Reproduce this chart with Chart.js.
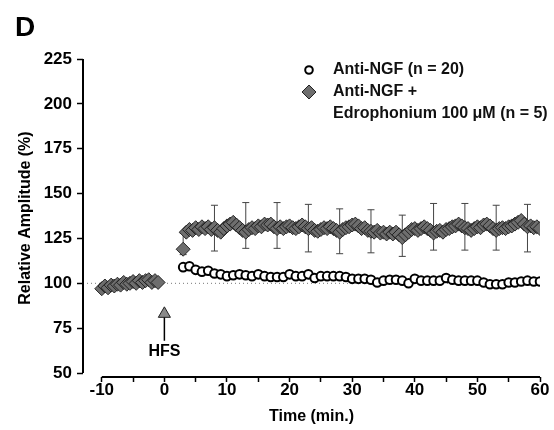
<!DOCTYPE html>
<html>
<head>
<meta charset="utf-8">
<script src="https://cdn.jsdelivr.net/npm/chart.js@4.4.1/dist/chart.umd.min.js"></script>
<style>
  html, body { margin: 0; padding: 0; background: #fff; }
  #wrap { width: 554px; height: 430px; position: relative; }
</style>
</head>
<body>
<div id="wrap"><canvas id="myChart"></canvas></div>
<script>
'use strict';
const FONT = '"Liberation Sans", Arial, Helvetica, sans-serif';

// axis ticks
const xTickValues = [-10, -5, 0, 5, 10, 15, 20, 25, 30, 35, 40, 45, 50, 55, 60];
const yTickValues = [50, 62.5, 75, 87.5, 100, 112.5, 125, 137.5, 150, 162.5, 175, 187.5, 200, 212.5, 225];

// Anti-NGF (n = 20), one point per minute from t = 3
const ngfStart = 3;
const ngfValues = [
  109, 109.5, 107.5, 106.5, 107, 105.5, 105, 104, 104.5, 105,
  104.5, 104, 105, 104, 103.5, 103.5, 103.5, 105, 104, 104,
  105, 103, 104, 104, 104, 104, 103.5, 102.5, 102.5, 102.5,
  102, 100.5, 101.5, 102, 102, 101.5, 100, 102.5, 101.5, 101.5,
  101.5, 101.5, 103, 102, 101.5, 101.5, 101.5, 101.5, 100.5, 99.5,
  99.5, 99.5, 100.5, 100.5, 101, 101.5, 101, 101
];

// Anti-NGF + Edrophonium (n = 5), every half minute
const edroBaseStart = -10;
const edroBaseValues = [97, 98.5, 97.5, 99, 98.5, 99.5, 99, 100.5, 99.5, 100,
  101, 100, 101.5, 100.5, 101.5, 102, 100.5, 101.5, 100.5];
const edroFirstTime = 3;
const edroFirstValue = 119;
const edroStart = 3.5;
const edroValues = [
  128.5, 130, 129.5, 131, 130, 131.5, 130.5, 131.5, 130, 131,
  129.5, 128.5, 130.5, 132, 133, 134, 132.5, 131, 129.5, 128.5,
  130, 131, 130.5, 132, 131.5, 133, 132.5, 133, 131.5, 130.5,
  131.5, 130.5, 131.5, 132, 131, 130.5, 131.5, 132.5, 131.5, 130.5,
  131, 129.5, 129, 130, 131, 130.5, 131.5, 130.5, 129.5, 128.5,
  130, 131, 131.5, 132.5, 133, 132, 130.5, 131, 129.5, 129,
  128.5, 129.5, 128, 128.5, 127.5, 128.5, 127.5, 128.5, 127, 125.5,
  127, 128.5, 130, 130.5, 129.5, 130.5, 131.5, 130.5, 129.5, 128,
  129, 129.5, 128.5, 130, 130.5, 131.5, 132, 133, 132, 131,
  130.5, 129.5, 130.5, 131.5, 131, 132.5, 133, 132, 130.5, 129.5,
  130.5, 131, 130.5, 131.5, 132, 133, 134, 135, 133, 131.5,
  132, 131, 131.5, 130.5
];

// error bars on the edrophonium series
const errTimes = [3, 8, 13, 18, 23, 28, 33, 38, 43, 48, 53, 58];
const errUpper = [128, 143.5, 145, 145, 144, 141.5, 141, 138, 144.5, 144.5, 143.5, 144];
const errLower = [116, 118, 119.5, 119.5, 117.5, 116.5, 117, 115, 118.5, 118.5, 118.5, 117.5];

// HFS arrow
const arrowTime = 0;
const arrowShaft = [68, 81];
const arrowHead = 83;
const arrowTextY = 62;
const baseline = 100;

// axis limits (x axis sits a little below y = 50, prism style)
const xMin = -13, xMax = 60;
const yMin = 47.8, yMax = 225;
const yAxisFrom = 50;

function toPoints(start, step, values) {
  return values.map((v, i) => ({x: start + i * step, y: v}));
}

let errPoints = [];
for (let i = 0; i < errTimes.length; i++) {
  errPoints.push({x: errTimes[i], y: errLower[i]});
  errPoints.push({x: errTimes[i], y: errUpper[i]});
  errPoints.push({x: errTimes[i], y: null});
}

let edroPoints = toPoints(edroBaseStart, 0.5, edroBaseValues)
  .concat([{x: edroFirstTime, y: edroFirstValue}])
  .concat(toPoints(edroStart, 0.5, edroValues));

const textPlugin = {
  id: 'texts',
  afterDraw(chart) {
    const ctx = chart.ctx;
    const xs = chart.scales.x;
    const ys = chart.scales.y;
    ctx.save();
    ctx.fillStyle = '#000';
    ctx.font = 'bold 28px ' + FONT;
    ctx.textAlign = 'left';
    ctx.textBaseline = 'alphabetic';
    ctx.fillText('D', 15, 36);

    ctx.font = 'bold 16px ' + FONT;
    ctx.textAlign = 'center';
    ctx.textBaseline = 'middle';
    ctx.fillText('HFS', xs.getPixelForValue(arrowTime), ys.getPixelForValue(arrowTextY));

    // legend
    ctx.textAlign = 'left';
    ctx.fillStyle = '#111';
    ctx.fillText('Anti-NGF (n = 20)', 333, 70);
    ctx.fillText('Anti-NGF +', 333, 92);
    ctx.fillText('Edrophonium 100 \u03BCM (n = 5)', 333, 114);

    ctx.beginPath();
    ctx.arc(309, 70, 3.8, 0, Math.PI * 2);
    ctx.fillStyle = '#fff';
    ctx.fill();
    ctx.lineWidth = 2;
    ctx.strokeStyle = '#000';
    ctx.stroke();

    ctx.beginPath();
    ctx.moveTo(309, 85);
    ctx.lineTo(316, 92);
    ctx.lineTo(309, 99);
    ctx.lineTo(302, 92);
    ctx.closePath();
    ctx.fillStyle = '#6e6e6e';
    ctx.fill();
    ctx.lineWidth = 1;
    ctx.strokeStyle = '#222';
    ctx.stroke();
    ctx.restore();
  }
};

const data = {
  datasets: [
    {
      label: 'Anti-NGF + Edrophonium',
      data: edroPoints,
      pointStyle: 'rectRot',
      pointRadius: 7,
      pointBackgroundColor: '#6e6e6e',
      pointBorderColor: '#1a1a1a',
      pointBorderWidth: 0.9,
      order: 1
    },
    {
      label: 'Anti-NGF',
      data: toPoints(ngfStart, 1, ngfValues),
      pointStyle: 'circle',
      pointRadius: 4.3,
      pointBackgroundColor: '#fff',
      pointBorderColor: '#000',
      pointBorderWidth: 2,
      order: 2
    },
    {
      label: 'sem',
      data: errPoints,
      showLine: true,
      borderColor: '#444',
      borderWidth: 1,
      pointStyle: 'line',
      pointRadius: 3.5,
      pointBorderColor: '#444',
      pointBorderWidth: 1,
      order: 3
    },
    {
      label: 'baseline',
      data: [{x: xMin, y: baseline}, {x: xMax, y: baseline}],
      showLine: true,
      borderColor: '#777',
      borderWidth: 1,
      borderDash: [1, 3],
      pointRadius: 0,
      order: 4
    },
    {
      label: 'y axis',
      data: [{x: xMin, y: yAxisFrom}, {x: xMin, y: yMax}],
      showLine: true,
      borderColor: '#000',
      borderWidth: 2,
      pointRadius: 0,
      clip: false,
      order: 0
    },
    {
      label: 'x axis',
      data: [{x: -10, y: yMin}, {x: xMax, y: yMin}],
      showLine: true,
      borderColor: '#000',
      borderWidth: 2,
      pointRadius: 0,
      clip: false,
      order: 0
    },
    {
      label: 'arrow shaft',
      data: [{x: arrowTime, y: arrowShaft[0]}, {x: arrowTime, y: arrowShaft[1]}],
      showLine: true,
      borderColor: '#000',
      borderWidth: 1.5,
      pointRadius: 0,
      order: 0
    },
    {
      label: 'arrow head',
      data: [{x: arrowTime, y: arrowHead}],
      pointStyle: 'triangle',
      pointRadius: 7,
      pointBackgroundColor: '#8a8a8a',
      pointBorderColor: '#222',
      pointBorderWidth: 1,
      order: 0
    }
  ]
};

const config = {
  type: 'scatter',
  data: data,
  options: {
    responsive: true,
    maintainAspectRatio: false,
    animation: false,
    layout: { padding: { top: 59, right: 14, bottom: 0, left: 0 } },
    plugins: { legend: { display: false }, tooltip: { enabled: false } },
    scales: {
      x: {
        type: 'linear',
        min: xMin,
        max: xMax,
        afterFit: (scale) => { scale.height = 53; },
        afterBuildTicks: (scale) => { scale.ticks = xTickValues.map(v => ({value: v})); },
        border: { display: false },
        grid: { drawOnChartArea: false, tickLength: 5, tickWidth: 1.5, tickColor: '#000' },
        ticks: {
          autoSkip: false,
          maxRotation: 0,
          padding: 0,
          color: '#000',
          font: { family: FONT, size: 17, weight: 'bold', lineHeight: 1 },
          callback: (v) => (v % 10 === 0 ? String(v) : '')
        },
        title: {
          display: true,
          text: 'Time (min.)',
          color: '#000',
          font: { family: FONT, size: 16, weight: 'bold' },
          padding: { top: 0, bottom: 4 }
        }
      },
      y: {
        type: 'linear',
        min: yMin,
        max: yMax,
        afterFit: (scale) => { scale.width = 83; },
        afterBuildTicks: (scale) => { scale.ticks = yTickValues.map(v => ({value: v})); },
        border: { display: false },
        grid: { drawOnChartArea: false, tickLength: 6, tickWidth: 1.5, tickColor: '#000' },
        ticks: {
          padding: 5,
          color: '#000',
          font: { family: FONT, size: 17, weight: 'bold' },
          callback: (v) => (v % 25 === 0 ? String(v) : '')
        },
        title: {
          display: true,
          text: 'Relative Amplitude (%)',
          color: '#000',
          font: { family: FONT, size: 16, weight: 'bold' },
          padding: { top: 16, bottom: 0 }
        }
      }
    }
  },
  plugins: [textPlugin]
};

let myChart = new Chart(document.getElementById('myChart'), config);
</script>
</body>
</html>
